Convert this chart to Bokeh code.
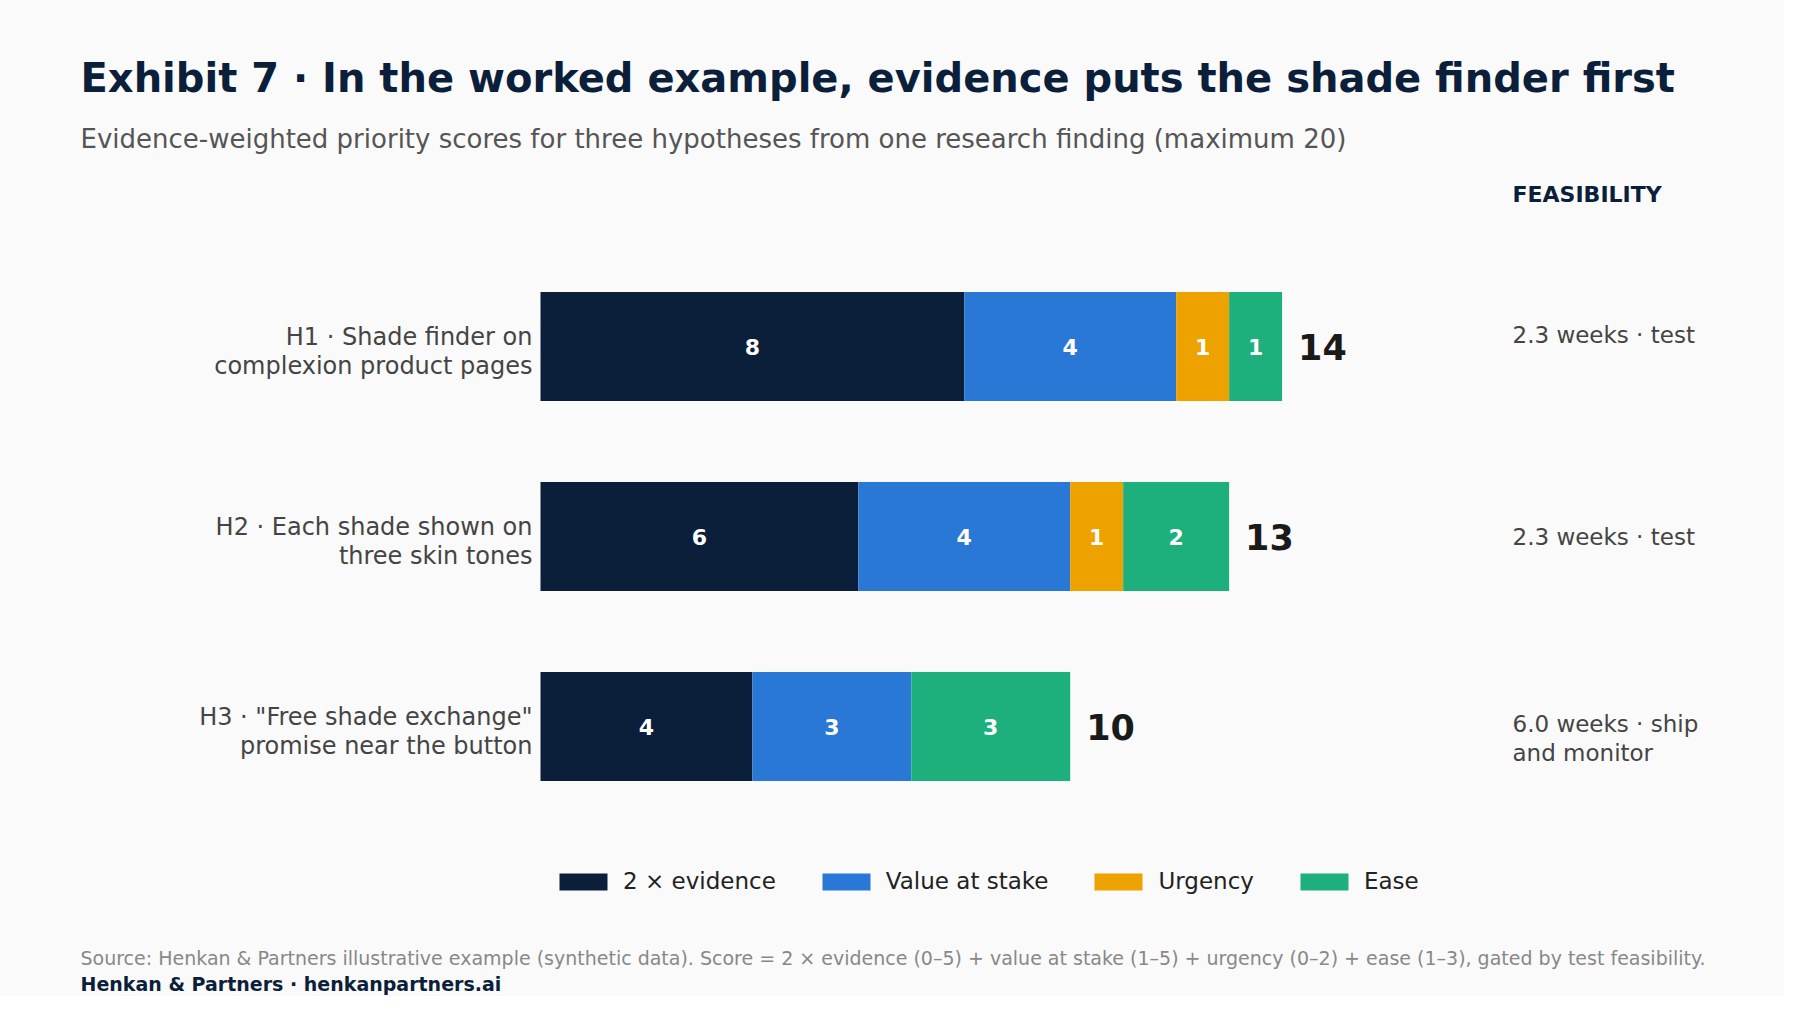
from bokeh.plotting import figure
from bokeh.models import Range1d, Label, Legend, LegendItem
from bokeh.embed import file_html
from bokeh.resources import INLINE
from bokeh.core.properties import value

# data
hypotheses = ["H1 · Shade finder on\ncomplexion product pages",
              "H2 · Each shade shown on\nthree skin tones",
              'H3 · "Free shade exchange"\npromise near the button']
evidence_x2 = [8, 6, 4]
value_at_stake = [4, 4, 3]
urgency = [1, 1, 0]
ease = [1, 2, 3]
feasibility = ["2.3 weeks · test", "2.3 weeks · test", "6.0 weeks · ship\nand monitor"]
components = ["2 × evidence", "Value at stake", "Urgency", "Ease"]
colors = ["#0B1F3A", "#2A78D6", "#EDA200", "#1DB07D"]

FONT = "DejaVu Sans"
NAVY = "#0B1F3A"
BG = "#FAFAFA"
W, H = 1784, 996
PX = 52.97          # pixels per score point
BAR_LEFT = 540      # pixel position of score 0
ROW_PX = 190        # pixels between rows
TOP_ROW = 346       # pixel of first row centre (from top)

rows = list(range(len(hypotheses)))
top = -TOP_ROW / ROW_PX

p = figure(width=W, height=H, output_backend="svg", toolbar_location=None,
           x_range=Range1d(-BAR_LEFT / PX, (W - BAR_LEFT) / PX),
           y_range=Range1d(top + H / ROW_PX, top),
           min_border=0, x_axis_location=None, y_axis_location=None)
p.grid.visible = False
p.outline_line_color = None
p.background_fill_color = BG
p.border_fill_color = BG

series = [evidence_x2, value_at_stake, urgency, ease]
left = [0] * len(rows)
renderers = []
for vals, col in zip(series, colors):
    right = [l + v for l, v in zip(left, vals)]
    r = p.hbar(y=rows, left=left, right=right, height=109 / ROW_PX,
               color=col, line_color=None)
    renderers.append(r)
    ys = [y for y, v in zip(rows, vals) if v > 0]
    xs = [l + v / 2 for l, v in zip(left, vals) if v > 0]
    ts = [str(v) for v in vals if v > 0]
    p.text(x=xs, y=ys, text=ts, text_align="center", text_baseline="middle",
           text_color="white", text_font=value(FONT), text_font_style="bold",
           text_font_size="22px")
    left = right

totals = left
p.text(x=totals, y=rows, text=[str(t) for t in totals], x_offset=16,
       text_align="left", text_baseline="middle", text_color="#1A1A1A",
       text_font=value(FONT), text_font_style="bold", text_font_size="35px")

p.text(x=[0] * len(rows), y=rows, text=hypotheses, x_offset=-8, y_offset=5,
       text_align="right", text_baseline="middle", text_color="#444444",
       text_font=value(FONT), text_font_size="24px", text_line_height=1.06)

FEAS_X = (1512 - BAR_LEFT) / PX
p.text(x=[FEAS_X] * len(rows), y=rows, text=feasibility, y_offset=[-12, 0, 12],
       text_align="left", text_baseline="middle", text_color="#444444",
       text_font=value(FONT), text_font_size="23px", text_line_height=1.1)


def label(text, x, y, size, color, bold=False):
    p.add_layout(Label(x=x, y=H - y, x_units="screen", y_units="screen", text=text,
                       text_font=FONT, text_font_size=size, text_color=color,
                       text_font_style="bold" if bold else "normal",
                       text_baseline="middle"))


label("Exhibit 7 · In the worked example, evidence puts the shade finder first",
      80, 77, "40px", NAVY, bold=True)
label("Evidence-weighted priority scores for three hypotheses from one research finding (maximum 20)",
      80, 138, "26px", "#555555")
label("FEASIBILITY", 1512, 194, "22px", NAVY, bold=True)
label("Source: Henkan & Partners illustrative example (synthetic data). Score = 2 × evidence (0–5) "
      "+ value at stake (1–5) + urgency (0–2) + ease (1–3), gated by test feasibility.",
      80, 957, "19px", "#888888")
label("Henkan & Partners · henkanpartners.ai", 80, 983, "19px", NAVY, bold=True)

legend = Legend(items=[LegendItem(label=c, renderers=[r]) for c, r in zip(components, renderers)],
                orientation="horizontal", location=(553, 102), glyph_width=60, glyph_height=21,
                label_text_font=FONT, label_text_font_size="23px", label_text_color="#222222",
                label_standoff=10, spacing=40, padding=0, margin=0,
                border_line_alpha=0, background_fill_alpha=0)
p.add_layout(legend)

open("out.html", "w").write(file_html(p, INLINE))
